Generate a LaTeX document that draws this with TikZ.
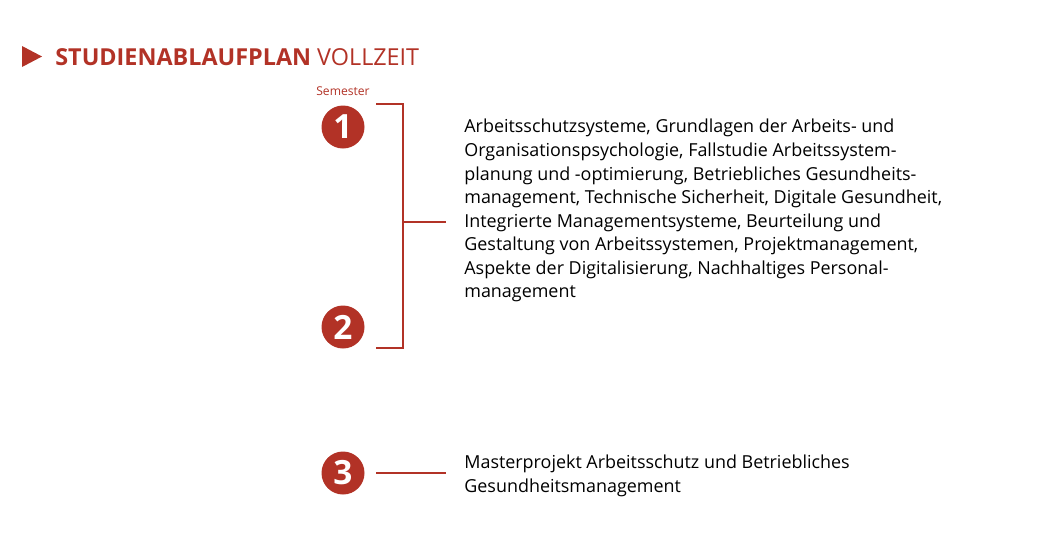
\documentclass[tikz,border=0pt]{standalone}
\usepackage{fontspec}
\setmainfont{Open Sans}
\usetikzlibrary{positioning,calc}
\definecolor{planred}{RGB}{178,50,38}
\tikzset{
  semnum/.style={circle,fill=planred,text=white,minimum size=0.86cm,inner sep=0pt,font=\fontsize{19}{19}\selectfont\bfseries},
  planline/.style={draw=planred,line width=0.6pt},
  plantext/.style={anchor=north west,align=left,inner sep=0pt,font=\fontsize{10.2}{13.4}\selectfont}
}
\begin{document}
\begin{tikzpicture}[x=0.02cm,y=-0.02cm]
   \useasboundingbox (0,0) rectangle (1050,535);
   \fill[planred] (22,46) -- (42,56.5) -- (22,67) -- cycle;
   \node[anchor=base west,inner sep=0pt,text=planred,font=\fontsize{13.3}{15}\selectfont] (title) at (55,65)
      {\textbf{STUDIENABLAUFPLAN} VOLLZEIT};

   \node[text=planred,font=\fontsize{6.9}{8}\selectfont,inner sep=0pt] (sem) at (343,91) {Semester};
   \node[semnum] (s1) at (343,127) {1};
   \node[semnum] (s2) at (343,327) {2};
   \node[semnum] (s3) at (343,473) {3};

   \coordinate (b1) at (376,104);
   \coordinate (b2) at (403,104);
   \coordinate (b3) at (403,348);
   \coordinate (b4) at (376,348);
   \coordinate (bm) at (403,222);
   \coordinate (bt) at (446,222);
   \coordinate (c1) at (376,473);
   \coordinate (c2) at (446,473);
   \draw[planline] (b1) -- (b2) -- (b3) -- (b4);
   \draw[planline] (bm) -- (bt);
   \draw[planline] (c1) -- (c2);

   \node[plantext] (t1) at (464,119) {Arbeitsschutzsysteme, Grundlagen der Arbeits- und\\
      Organisationspsychologie, Fallstudie Arbeitssystem-\\
      planung und -optimierung, Betriebliches Gesundheits-\\
      management, Technische Sicherheit, Digitale Gesundheit,\\
      Integrierte Managementsysteme, Beurteilung und\\
      Gestaltung von Arbeitssystemen, Projektmanagement,\\
      Aspekte der Digitalisierung, Nachhaltiges Personal-\\
      management};
   \node[plantext] (t3) at (464,455) {Masterprojekt Arbeitsschutz und Betriebliches\\
      Gesundheitsmanagement};
\end{tikzpicture}
\end{document}
